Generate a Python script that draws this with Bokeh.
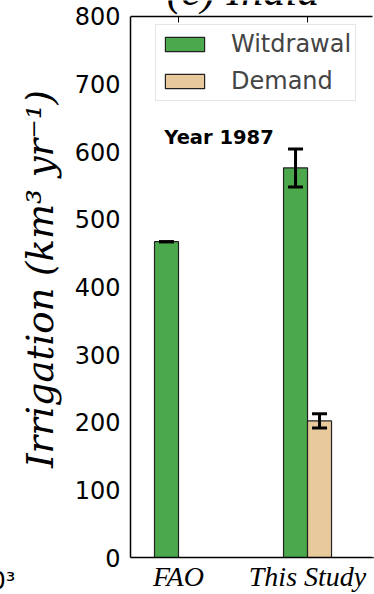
import numpy as np
from bokeh.plotting import figure
from bokeh.models import (ColumnDataSource, Range1d, LinearAxis, FixedTicker, Whisker,
                          TeeHead, Legend, LegendItem, Label, Span, Title)
from bokeh.transform import dodge
from bokeh.embed import file_html
from bokeh.resources import INLINE

# ---- data ----
categories = ["FAO", "This Study"]
withdrawal = [467, 576]
withdrawal_err = [0, 28]
demand = [np.nan, 202]
demand_err = [np.nan, 10.5]
y_ticks = [0, 100, 200, 300, 400, 500, 600, 700, 800]
title_text = "(c) India"
note_text = "Year 1987"
y_label = "Irrigation (km\u00b3 yr\u207b\u00b9)"
edge_text = "0\u00b3"

BAR_W = 0.186
GREEN = "#4ca84c"
TAN = "#e8c99c"

W, H = 374, 594
BORDER_L, BORDER_B = 130, 35
TOP_GAP_PX = 16          # axes top sits 16 px below the canvas top
Y_MAX = y_ticks[-1]
frame_h = H - BORDER_B
y_end = Y_MAX * frame_h / (frame_h - TOP_GAP_PX)
X_START, X_END = -0.372, 1.519

xi = np.arange(len(categories))
tick_len = 6 * y_end / frame_h
src = ColumnDataSource(dict(
    x=xi,
    w=withdrawal, d=demand,
    w_lo=np.array(withdrawal) - np.array(withdrawal_err),
    w_hi=np.array(withdrawal) + np.array(withdrawal_err),
    d_lo=np.array(demand) - np.array(demand_err),
    d_hi=np.array(demand) + np.array(demand_err),
    xw=xi - BAR_W / 2, xd=xi + BAR_W / 2,
    ytop=np.full(len(categories), Y_MAX), ytick=np.full(len(categories), Y_MAX - tick_len),
))

p = figure(width=W, height=H, output_backend="svg", toolbar_location=None,
           x_range=Range1d(X_START, X_END), y_range=Range1d(0, y_end),
           x_axis_location=None, y_axis_location=None,
           min_border_left=BORDER_L, min_border_right=0, min_border_top=0,
           min_border_bottom=BORDER_B)
p.outline_line_color = None
p.border_fill_color = "white"
p.xgrid.visible = False
p.ygrid.visible = False
p.background_fill_color = "white"

rw = p.vbar(x=dodge("x", -BAR_W / 2, range=p.x_range), top="w", width=BAR_W, source=src,
            fill_color=GREEN, line_color="#222222", line_width=1.2)
rd = p.vbar(x=dodge("x", BAR_W / 2, range=p.x_range), top="d", width=BAR_W, source=src,
            fill_color=TAN, line_color="#222222", line_width=1.2)

for base, lo, hi in (("xw", "w_lo", "w_hi"), ("xd", "d_lo", "d_hi")):
    wk = Whisker(source=src, base=base, lower=lo, upper=hi, line_width=3, line_color="black",
                 level="overlay",
                 upper_head=TeeHead(size=15, line_width=3, line_color="black"),
                 lower_head=TeeHead(size=15, line_width=3, line_color="black"))
    p.add_layout(wk)

# top spine and inward ticks at the category positions
p.add_layout(Span(location=Y_MAX, dimension="width", line_color="black", line_width=1.5))
p.segment(x0="x", x1="x", y0="ytop", y1="ytick", source=src, line_color="black", line_width=1)

# hide any stray stroke along the right / top edges of the frame
p.add_layout(Span(location=X_END, dimension="height", line_color="white", line_width=4,
                  level="overlay"))
p.add_layout(Span(location=y_end, dimension="width", line_color="white", line_width=2,
                  level="underlay"))

# axes
yax = LinearAxis(ticker=FixedTicker(ticks=y_ticks), bounds=(0, Y_MAX))
yax.major_tick_in = 0
yax.major_tick_out = 0
yax.minor_tick_in = 0
yax.minor_tick_out = 0
yax.major_label_standoff = 10
yax.major_label_text_font = "DejaVu Sans"
yax.major_label_text_font_size = "24px"
yax.major_label_text_color = "black"
yax.axis_line_width = 1.5
yax.axis_line_color = "black"
yax.axis_label = y_label
yax.axis_label_text_font = "DejaVu Serif"
yax.axis_label_text_font_style = "italic"
yax.axis_label_text_font_size = "37px"
yax.axis_label_text_color = "black"
yax.axis_label_standoff = 10
p.add_layout(yax, "left")

bax = LinearAxis(ticker=FixedTicker(ticks=list(xi)))
bax.major_label_overrides = {int(i): c for i, c in zip(xi, categories)}
bax.major_label_text_font = "Liberation Serif"
bax.major_label_text_font_style = "italic"
bax.major_label_text_font_size = "28px"
bax.major_label_text_color = "black"
bax.major_label_standoff = 3
bax.major_tick_out = 0
bax.major_tick_in = 0
bax.minor_tick_in = 0
bax.minor_tick_out = 0
bax.axis_line_width = 1.5
bax.axis_line_color = "black"
p.add_layout(bax, "below")

# fragment of the neighbouring panel's text at the bottom-left corner
edge = Title(text=edge_text, align="left", vertical_align="top", offset=-140, standoff=-56,
             text_font="DejaVu Sans", text_font_size="24px", text_font_style="normal",
             text_color="black")
p.add_layout(edge, "below")

# legend
leg = Legend(items=[LegendItem(label="Witdrawal", renderers=[rw]),
                    LegendItem(label="Demand", renderers=[rd])],
             location=(25, 456), orientation="vertical",
             label_text_font="DejaVu Sans", label_text_font_size="24px",
             glyph_width=49, glyph_height=18, label_standoff=22, label_height=30,
             padding=4, spacing=7, margin=0,
             border_line_color="#cccccc", border_line_width=1.5,
             background_fill_color="white", background_fill_alpha=1)
p.add_layout(leg)

p.add_layout(Label(x=-0.11, y=621, text=note_text, text_font="DejaVu Sans",
                   text_font_style="bold", text_font_size="19.5px", text_color="black",
                   text_baseline="alphabetic"))

p.add_layout(Label(x=0.5, y=Y_MAX, y_offset=26, text=title_text, text_font="Liberation Serif",
                   text_font_style="italic", text_font_size="44px", text_color="black",
                   text_align="center", text_baseline="alphabetic"))

open("out.html", "w").write(file_html(p, INLINE))
